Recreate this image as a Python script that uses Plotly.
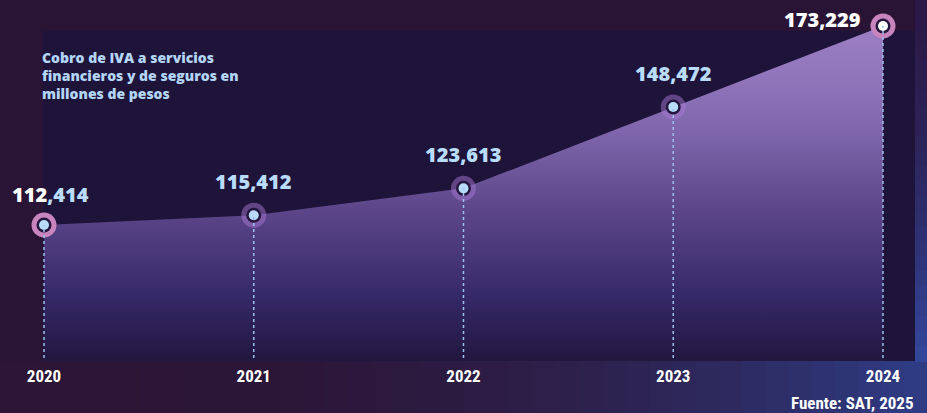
import plotly.graph_objects as go

years = [2020, 2021, 2022, 2023, 2024]
values = [112414, 115412, 123613, 148472, 173229]
value_labels = ["112,414", "115,412", "123,613", "148,472", "173,229"]
title_lines = ["Cobro de IVA a servicios", "financieros y de seguros en", "millones de pesos"]
source_text = "Fuente: SAT, 2025"

W, H = 927, 413
PLOT_H = 361
Y_BOTTOM, Y_TOP = 70852, 181175
X_LEFT, X_RIGHT = 2019.7902, 2024.2098

LIGHT = "#b9dcfa"
NARROW = "Roboto Condensed, Noto Sans Condensed, Liberation Sans Narrow, Roboto, sans-serif"
HEAVY = "Open Sans, Lato, sans-serif"


def py(p):
    """pixel y (from figure top) -> paper coordinate of plot area"""
    return (PLOT_H - p) / PLOT_H


def px(p):
    return p / W


fig = go.Figure()

# area with vertical gradient
fig.add_trace(go.Scatter(
    x=years, y=values, mode="lines", line=dict(width=0, color="#9c7ec4"),
    fill="tozeroy",
    fillgradient=dict(
        type="vertical", start=Y_BOTTOM, stop=values[-1],
        colorscale=[[0, "#21173f"], [0.2, "#36296a"], [0.45, "#5c4689"],
                    [0.7, "#8168ae"], [0.88, "#9378bd"], [1, "#9c7ec4"]]),
    hoverinfo="skip", showlegend=False))

# dotted verticals
vlines = []
for yr, v in zip(years, values):
    vlines.append(dict(type="line", xref="x", yref="y", x0=yr, x1=yr,
                       y0=Y_BOTTOM + 900, y1=v,
                       line=dict(color="#9cc0ec", width=1.5, dash="dot"), layer="above"))


def lerp(c1, c2, t):
    a = [int(c1[i:i + 2], 16) for i in (1, 3, 5)]
    b = [int(c2[i:i + 2], 16) for i in (1, 3, 5)]
    return "rgb(%d,%d,%d)" % tuple(round(a[j] + (b[j] - a[j]) * t) for j in range(3))


bg = []
# dark panel
bg.append(dict(type="rect", xref="paper", yref="paper", x0=px(43), x1=px(915),
               y0=py(361), y1=py(31), fillcolor="#1e1339", line=dict(width=0),
               layer="below"))
# bottom band stepped gradient (purple -> blue)
n = 40
for i in range(n):
    t = i / (n - 1)
    col = lerp("#2c1535", "#2f3c84", t ** 2.6)
    bg.append(dict(type="rect", xref="paper", yref="paper", x0=i / n, x1=(i + 1) / n + 0.002,
                   y0=py(H), y1=py(361), fillcolor=col, line=dict(width=0), layer="below"))
# right strip
m = 24
for i in range(m):
    t = i / (m - 1)
    col = lerp("#2b1a48", "#33469a", t ** 1.6)
    bg.append(dict(type="rect", xref="paper", yref="paper", x0=px(915), x1=1,
                   y0=py(361 * (i + 1) / m + 1), y1=py(361 * i / m),
                   fillcolor=col, line=dict(width=0), layer="below"))

# markers: halo, dark ring, inner
halo_cols = ["#c784bd", "rgba(165,120,210,0.5)", "rgba(165,120,210,0.5)",
             "rgba(165,120,210,0.5)", "#c784bd"]
inner_cols = [LIGHT, LIGHT, LIGHT, LIGHT, "#ffffff"]
fig.add_trace(go.Scatter(x=years, y=values, mode="markers",
                         marker=dict(size=25, color=halo_cols, line=dict(width=0)),
                         hoverinfo="skip", showlegend=False, cliponaxis=False))
fig.add_trace(go.Scatter(x=years, y=values, mode="markers",
                         marker=dict(size=15, color="#24163c", line=dict(width=0)),
                         hoverinfo="skip", showlegend=False, cliponaxis=False))
fig.add_trace(go.Scatter(x=years, y=values, mode="markers",
                         marker=dict(size=10, color=inner_cols, line=dict(width=0)),
                         hoverinfo="skip", showlegend=False, cliponaxis=False))

annotations = []
label_font = dict(family=HEAVY, size=20, color=LIGHT, weight=800)
for i, (yr, v, lab) in enumerate(zip(years, values, value_labels)):
    if i == 0:
        head, tail = lab.split(",")
        text = "<span style='color:#ffffff'>%s</span>,%s" % (head, tail)
        annotations.append(dict(x=yr, y=v, xref="x", yref="y", text=text, showarrow=False,
                                xanchor="center", yanchor="middle", xshift=6, yshift=31,
                                font=label_font))
    elif i == len(years) - 1:
        annotations.append(dict(x=yr, y=v, xref="x", yref="y", text=lab, showarrow=False,
                                xanchor="right", yanchor="middle", xshift=-20, yshift=7,
                                font=dict(label_font, color="#ffffff")))
    else:
        annotations.append(dict(x=yr, y=v, xref="x", yref="y", text=lab, showarrow=False,
                                xanchor="center", yanchor="middle", xshift=0, yshift=34,
                                font=label_font))

annotations.append(dict(xref="paper", yref="paper", x=px(40), y=py(46),
                        xanchor="left", yanchor="top", align="left",
                        text="<br>".join(title_lines), showarrow=False,
                        font=dict(family=HEAVY, size=14, color="#b3d6f6", weight=800)))
annotations.append(dict(xref="paper", yref="paper", x=px(916), y=py(403),
                        xanchor="right", yanchor="middle", text=source_text, showarrow=False,
                        font=dict(family=NARROW, size=17, color="#ffffff", weight="bold")))

fig.update_layout(
    width=W, height=H, margin=dict(l=0, r=0, t=0, b=H - PLOT_H),
    paper_bgcolor="#2a1436", plot_bgcolor="rgba(0,0,0,0)",
    shapes=bg + vlines, annotations=annotations, showlegend=False,
    xaxis=dict(range=[X_LEFT, X_RIGHT], tickvals=years, ticktext=[str(y) for y in years],
               showgrid=False, zeroline=False, showline=False, ticks="",
               tickfont=dict(family=NARROW, size=17, color="#ffffff", weight="bold"),
               ticklabelstandoff=3, fixedrange=True),
    yaxis=dict(range=[Y_BOTTOM, Y_TOP], visible=False, showgrid=False, zeroline=False,
               fixedrange=True),
)

fig.write_html("out.html")
